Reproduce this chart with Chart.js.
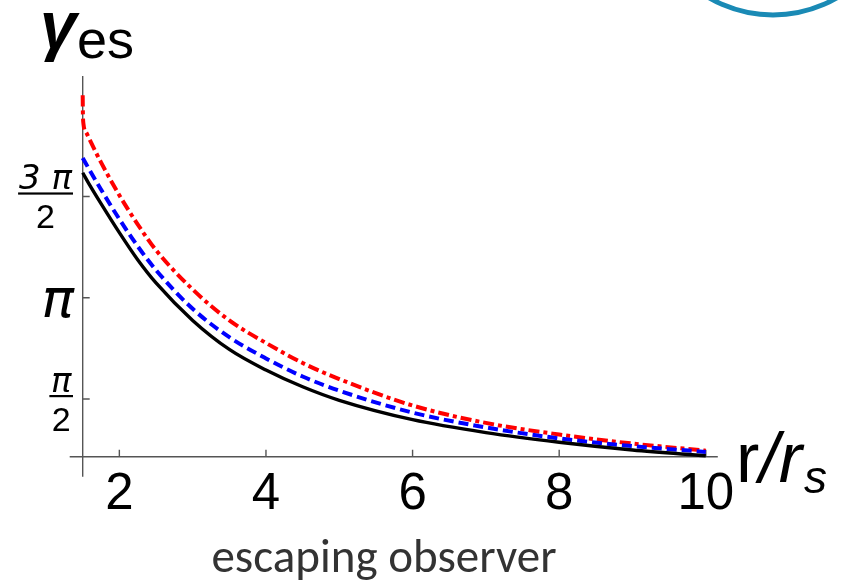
<!DOCTYPE html>
<html>
<head>
<meta charset="utf-8">
<script src="https://cdn.jsdelivr.net/npm/chart.js@4.4.0/dist/chart.umd.min.js"></script>
<style>
  html, body { margin: 0; padding: 0; background: #fff; }
  #wrap { width: 846px; height: 584px; }
</style>
</head>
<body>
<div id="wrap"><canvas id="chart" width="846" height="584"></canvas></div>
<script>
// r / r_s sample points
const rValues = [1.5, 1.6, 1.75, 2, 2.25, 2.5, 3, 3.5, 4, 4.5, 5, 6, 7, 8, 9, 10];
const rValuesRed = [1.5, 1.502, 1.51, 1.55, 1.6, 1.75, 2, 2.25, 2.5, 3, 3.5, 4, 4.5, 5, 6, 7, 8, 9, 10];

// escape angle gamma_es in radians
const gammaBlack = [5.08, 4.88, 4.60, 4.15, 3.73, 3.37, 2.79, 2.34, 2.02, 1.76, 1.55, 1.25, 1.05, 0.90, 0.78, 0.69];
const gammaBlue = [5.31, 5.11, 4.82, 4.36, 3.94, 3.57, 2.97, 2.53, 2.20, 1.92, 1.70, 1.36, 1.13, 0.96, 0.84, 0.75];
const gammaRed = [6.28, 6.05, 5.84, 5.70, 5.58, 5.24, 4.73, 4.28, 3.88, 3.27, 2.79, 2.44, 2.13, 1.88, 1.47, 1.20, 1.02, 0.88, 0.77];

// ticks
const xTicks = [2, 4, 6, 8, 10];
const yTicks = [Math.PI / 2, Math.PI, 3 * Math.PI / 2];
const yTickLabels = [['π', '2'], ['π'], ['3 π', '2']];

const toPoints = (xs, ys) => xs.map((x, i) => ({ x: x, y: ys[i] }));

// axes, ticks and all the loose text
const decor = {
    id: 'decor',
    beforeDatasetsDraw(chart) {
        const c = chart.ctx;
        const xs = chart.scales.x;
        const ys = chart.scales.y;
        const area = chart.chartArea;
        c.save();
        c.strokeStyle = '#555';
        c.lineWidth = 1.4;
        c.beginPath();
        c.moveTo(area.left - 13, area.bottom);
        c.lineTo(area.right + 12, area.bottom);
        c.moveTo(area.left, area.top);
        c.lineTo(area.left, area.bottom + 20);
        xTicks.forEach(v => {
            const px = xs.getPixelForValue(v);
            c.moveTo(px, area.bottom);
            c.lineTo(px, area.bottom - 7);
        });
        yTicks.forEach(v => {
            const py = ys.getPixelForValue(v);
            c.moveTo(area.left, py);
            c.lineTo(area.left + 7, py);
        });
        c.stroke();
        c.restore();
    },
    afterDraw(chart) {
        const c = chart.ctx;
        const ys = chart.scales.y;
        c.save();
        c.fillStyle = '#000';
        c.textBaseline = 'alphabetic';

        // y tick labels (fractions of pi)
        yTicks.forEach((v, i) => {
            const py = ys.getPixelForValue(v);
            const lab = yTickLabels[i];
            if (lab.length === 1) {
                c.font = 'italic 54px "DejaVu Sans"';
                c.textAlign = 'right';
                c.fillText(lab[0], 74, py + 19);
            } else {
                c.font = 'italic 34px "DejaVu Sans"';
                const w = Math.max(c.measureText(lab[0]).width, c.measureText(lab[1]).width);
                const cx = 73 - w / 2 - 1;
                c.textAlign = 'center';
                c.fillText(lab[0], cx, py - 7);
                c.font = '34px "Liberation Sans"';
                c.fillText(lab[1], cx, py + 32);
                c.fillRect(cx - w / 2 - 1, py - 4, w + 2, 2.2);
            }
        });

        // axis title y
        c.textAlign = 'left';
        c.font = 'italic bold 66px "Liberation Sans"';
        c.fillText('γ', 40, 48);
        c.font = '54px "Liberation Sans"';
        c.fillText('es', 77, 58);

        // axis title x
        c.font = '70px "Liberation Sans"';
        c.fillText('r', 736, 482);
        const rw = c.measureText('r').width;
        c.font = 'italic 70px "Liberation Sans"';
        c.fillText('/r', 736 + rw, 482);
        const sw = c.measureText('/r').width;
        c.font = 'italic 46px "Liberation Sans"';
        c.fillText('s', 736 + rw + sw + 2, 493);

        // caption
        c.fillStyle = '#333';
        c.textAlign = 'center';
        c.font = '47px Carlito, "Open Sans"';
        c.fillText('escaping observer', 384, 572);

        // logo fragment, top right
        c.strokeStyle = '#1a8ab5';
        c.lineWidth = 5;
        c.beginPath();
        c.arc(773, -112, 127, 0.25 * Math.PI, 0.75 * Math.PI);
        c.stroke();
        c.restore();
    }
};

const ctx = document.getElementById('chart').getContext('2d');
const chart = new Chart(ctx, {
    type: 'scatter',
    data: {
        datasets: [
            {
                data: toPoints(rValues, gammaBlack),
                borderColor: '#000',
                borderWidth: 3.4,
                showLine: true,
                pointRadius: 0,
                cubicInterpolationMode: 'monotone',
                clip: false
            },
            {
                data: toPoints(rValues, gammaBlue),
                borderColor: '#0000ff',
                borderWidth: 4,
                borderDash: [10, 5],
                showLine: true,
                pointRadius: 0,
                cubicInterpolationMode: 'monotone',
                clip: false
            },
            {
                data: toPoints(rValuesRed, gammaRed),
                borderColor: '#ff0000',
                borderWidth: 4,
                borderDash: [11, 4, 4, 4],
                showLine: true,
                pointRadius: 0,
                cubicInterpolationMode: 'monotone',
                clip: false
            }
        ]
    },
    options: {
        responsive: false,
        animation: false,
        layout: { padding: { top: 76, right: 140.2, left: 0, bottom: 0 } },
        plugins: { legend: { display: false }, tooltip: { enabled: false } },
        scales: {
            x: {
                type: 'linear',
                min: 1.5,
                max: 10,
                grid: { display: false, drawTicks: false },
                border: { display: false },
                afterBuildTicks: s => { s.ticks = xTicks.map(v => ({ value: v })); },
                afterFit: s => { s.height = 127.3; },
                ticks: {
                    color: '#000',
                    padding: 8,
                    font: { family: '"Liberation Sans"', size: 51 },
                    callback: v => String(v)
                }
            },
            y: {
                type: 'linear',
                min: 0.676,
                max: 6.58,
                grid: { display: false, drawTicks: false },
                border: { display: false },
                afterBuildTicks: s => { s.ticks = yTicks.map(v => ({ value: v })); },
                afterFit: s => { s.width = 82.7; },
                ticks: { display: false }
            }
        }
    },
    plugins: [decor]
});
</script>
</body>
</html>
